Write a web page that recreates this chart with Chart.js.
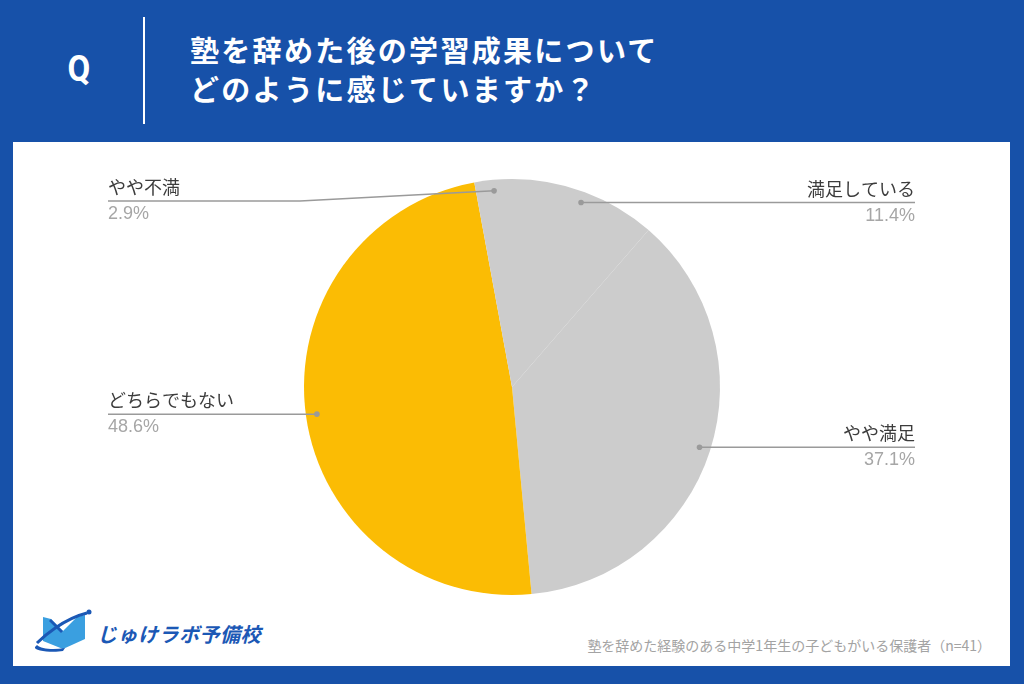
<!DOCTYPE html>
<html lang="ja">
<head>
<meta charset="utf-8">
<script src="https://cdn.jsdelivr.net/npm/chart.js@4.4.1/dist/chart.umd.min.js"></script>
<style>
  html, body { margin: 0; padding: 0; }
  body {
    width: 1024px; height: 684px; overflow: hidden; position: relative;
    background: #1751a9;
    font-family: "Noto Sans CJK JP", "Noto Sans", sans-serif;
  }
  #q {
    position: absolute; left: 64px; top: 49px; width: 30px; text-align: center;
    color: #fff; font: bold 33px Roboto, "Liberation Sans", sans-serif;
    transform: scaleY(1.1);
  }
  #bar { position: absolute; left: 143px; top: 17px; width: 2px; height: 107px; background: #fff; }
  #title {
    position: absolute; left: 190px; top: 30px;
    color: #fff; font-size: 29px; font-weight: bold; line-height: 39px; letter-spacing: 2.3px;
  }
  #panel { position: absolute; left: 13px; top: 142px; width: 997px; height: 524px; background: #fff; }
  #logo { position: absolute; left: 33px; top: 607px; }
  #logoText {
    position: absolute; left: 97px; top: 619px;
    color: #1b58b5; font-size: 20px; font-weight: bold; font-style: italic; letter-spacing: 0.5px;
  }
  #note {
    position: absolute; right: 33px; top: 635px;
    color: #a3a3a3; font-size: 14px;
  }
  #chart { position: absolute; left: 0; top: 0; }
</style>
</head>
<body>
<div id="q">Q</div>
<div id="bar"></div>
<div id="title">塾を辞めた後の学習成果について<br>どのように感じていますか？</div>
<div id="panel"></div>
<svg id="logo" width="62" height="48" viewBox="0 0 62 48">
  <polygon points="10,10 18,12 30,24 30,42 10,34" fill="#3a9fe0"/>
  <polygon points="30,24 44,10 52,8 52,32 30,42" fill="#3a9fe0"/>
  <polygon points="18,12 30,24 28,26 16,14" fill="#1b58b5"/>
  <path d="M4,36 C10,30 30,12 54,6" stroke="#1b58b5" stroke-width="3" fill="none"/>
  <path d="M2,40 C0,44 20,46 30,44 L32,41 C20,43 8,42 4,38 Z" fill="#1b58b5"/>
  <circle cx="56" cy="5" r="2.5" fill="#1b58b5"/>
</svg>
<div id="logoText">じゅけラボ予備校</div>
<div id="note">塾を辞めた経験のある中学1年生の子どもがいる保護者（n=41）</div>
<canvas id="chart" width="1024" height="684"></canvas>

<script>
// answer categories, clockwise from 12 o'clock
const categories = ['満足している', 'やや満足', 'どちらでもない', 'やや不満'];
// share of respondents (%)
const shares = [11.4, 37.1, 48.6, 2.9];
const sliceColors = ['#cccccc', '#cccccc', '#fbbc04', '#cccccc'];

/**
 * Leader-line labels: dot inside the slice, line out to the side,
 * category name above the line and percentage below it.
 */
const leaderLabels = {
    id: 'leaderLabels',
    afterDatasetsDraw(chart, args, opts) {
        const ctx = chart.ctx;
        const meta = chart.getDatasetMeta(0);
        meta.data.forEach(function (arc, i) {
            const p = arc.getProps(['x', 'y', 'startAngle', 'endAngle', 'outerRadius'], true);
            const mid = (p.startAngle + p.endAngle) / 2;
            const dotX = p.x + Math.cos(mid) * p.outerRadius * 0.947;
            const dotY = p.y + Math.sin(mid) * p.outerRadius * 0.947;
            const right = Math.cos(mid) > 0;
            const lineY = Math.max(dotY, opts.minLineY);
            const edgeX = right ? opts.rightX : opts.leftX;

            ctx.save();
            ctx.strokeStyle = '#9a9a9a';
            ctx.lineWidth = 1.5;
            ctx.beginPath();
            ctx.moveTo(dotX, dotY);
            if (Math.abs(lineY - dotY) > 0.5) {
                const elbowX = right ? p.x + p.outerRadius + 4 : p.x - p.outerRadius - 4;
                ctx.lineTo(elbowX, lineY);
            }
            ctx.lineTo(edgeX, lineY);
            ctx.stroke();

            ctx.fillStyle = '#9a9a9a';
            ctx.beginPath();
            ctx.arc(dotX, dotY, 2.8, 0, Math.PI * 2);
            ctx.fill();

            ctx.textAlign = right ? 'right' : 'left';
            ctx.textBaseline = 'alphabetic';
            ctx.fillStyle = '#3c3c3c';
            ctx.font = '18px "Noto Sans CJK JP"';
            ctx.fillText(categories[i], edgeX, lineY - 7);
            ctx.fillStyle = '#a6a6a6';
            ctx.font = '18px "Liberation Sans", Arial, sans-serif';
            ctx.fillText(shares[i].toFixed(1) + '%', edgeX, lineY + 18);
            ctx.restore();
        });
    }
};

new Chart(document.getElementById('chart'), {
    type: 'pie',
    data: {
        labels: categories,
        datasets: [{
            data: shares,
            backgroundColor: sliceColors,
            borderWidth: 0
        }]
    },
    options: {
        responsive: false,
        animation: false,
        layout: { padding: { top: 179, bottom: 89, left: 300, right: 300 } },
        plugins: {
            legend: { display: false },
            tooltip: { enabled: false },
            leaderLabels: { leftX: 108, rightX: 915, minLineY: 201 }
        }
    },
    plugins: [leaderLabels]
});
</script>
</body>
</html>
